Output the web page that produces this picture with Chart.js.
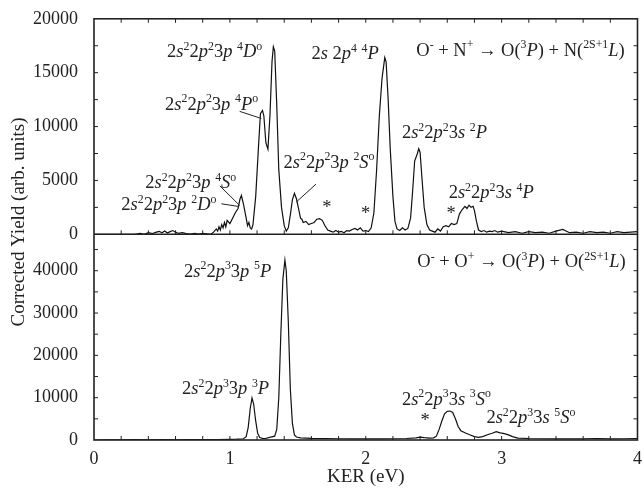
<!DOCTYPE html>
<html lang="en">
<head>
<meta charset="UTF-8">
<title>KER spectra</title>
<script src="https://cdn.jsdelivr.net/npm/chart.js"></script>
<style>
  body { margin: 0; background: #fff; }
  #chart { display: block; }
</style>
</head>
<body>
<canvas id="chart" width="642" height="496"></canvas>
<script>
// top panel: O- + N+
const topKer = [0.00, 0.30, 0.34, 0.37, 0.40, 0.43, 0.46, 0.48, 0.50, 0.52, 0.54, 0.56, 0.58, 0.60, 0.62, 0.65, 0.68, 0.71, 0.74, 0.77,
  0.80, 0.83, 0.86, 0.88, 0.90, 0.91, 0.92, 0.93, 0.94, 0.95, 0.96, 0.97, 0.98, 1.00, 1.02, 1.04, 1.06, 1.075, 1.085, 1.10,
  1.12, 1.13, 1.14, 1.15, 1.16, 1.17, 1.19, 1.21, 1.225, 1.24, 1.25, 1.265, 1.28, 1.295, 1.31, 1.32, 1.33, 1.345, 1.36, 1.38,
  1.40, 1.415, 1.43, 1.445, 1.46, 1.475, 1.49, 1.505, 1.52, 1.53, 1.54, 1.56, 1.58, 1.60, 1.62, 1.64, 1.66, 1.68, 1.70, 1.72,
  1.74, 1.76, 1.78, 1.80, 1.82, 1.84, 1.86, 1.88, 1.90, 1.92, 1.94, 1.96, 1.98, 2.00, 2.02, 2.04, 2.06, 2.08, 2.10, 2.12,
  2.14, 2.15, 2.165, 2.18, 2.20, 2.215, 2.23, 2.25, 2.27, 2.29, 2.31, 2.33, 2.345, 2.36, 2.38, 2.39, 2.40, 2.415, 2.43, 2.45,
  2.47, 2.49, 2.51, 2.53, 2.55, 2.57, 2.59, 2.61, 2.63, 2.65, 2.67, 2.69, 2.71, 2.73, 2.745, 2.76, 2.775, 2.79, 2.80, 2.815,
  2.83, 2.85, 2.87, 2.89, 2.91, 2.93, 2.95, 2.97, 3.00, 3.05, 3.10, 3.15, 3.20, 3.25, 3.30, 3.35, 3.40, 3.45, 3.50, 3.55,
  3.60, 3.65, 3.70, 3.75, 3.80, 3.85, 3.90, 3.95, 4.00];
const topYield = [0, 0, 80, 0, 150, 60, 200, 280, 150, 300, 120, 250, 350, 200, 80, 150, 60, 20, 80, 30,
  100, 50, 0, 200, 500, 300, 700, 400, 900, 600, 1100, 700, 1300, 1000, 1500, 2000, 2400, 3300, 3600, 2800,
  1500, 800, 1100, 600, 500, 900, 3500, 8000, 11200, 11500, 11000, 8500, 7900, 11000, 16000, 17400, 17000, 12000, 6000, 2500,
  800, 300, 600, 1800, 3200, 3800, 3300, 2400, 1500, 1400, 1100, 1200, 900, 1000, 1100, 1400, 1450, 1300, 800, 400,
  300, 200, 350, 200, 280, 150, 350, 300, 450, 550, 400, 600, 300, 350, 250, 600, 2000, 6000, 11000, 14500,
  16400, 16000, 12500, 8000, 3500, 1200, 500, 350, 600, 400, 550, 1500, 4000, 6800, 7500, 7950, 7600, 5000, 2500, 900,
  400, 300, 200, 500, 300, 700, 800, 700, 1000, 900, 1000, 1900, 2300, 2600, 2400, 2700, 2500, 2600, 2200, 1200,
  400, 250, 350, 200, 300, 250, 350, 200, 300, 150, 250, 100, 250, 150, 200, 100, 300, 450, 150, 200,
  100, 250, 150, 200, 100, 250, 150, 200, 250];

// bottom panel: O- + O+
const botKer = [0.0, 0.1, 0.2, 0.3, 0.4, 0.5, 0.6, 0.7, 0.8, 0.9, 1.0, 1.05, 1.1, 1.12, 1.135, 1.15, 1.163, 1.175, 1.19, 1.205,
  1.22, 1.24, 1.26, 1.28, 1.30, 1.33, 1.345, 1.36, 1.375, 1.39, 1.405, 1.415, 1.43, 1.445, 1.46, 1.475, 1.49, 1.52, 1.6, 1.7,
  1.8, 1.9, 2.0, 2.1, 2.2, 2.3, 2.37, 2.4, 2.43, 2.47, 2.50, 2.52, 2.54, 2.56, 2.58, 2.60, 2.62, 2.64, 2.66, 2.68,
  2.70, 2.73, 2.76, 2.80, 2.83, 2.86, 2.9, 2.93, 2.96, 2.99, 3.02, 3.05, 3.08, 3.12, 3.2, 3.3, 3.4, 3.5, 3.6, 3.7,
  3.8, 3.9, 4.0];
const botYield = [0, 50, 30, 80, 40, 100, 60, 90, 70, 120, 150, 200, 300, 800, 3000, 7500, 9900, 8500, 4500, 1500,
  600, 400, 350, 500, 700, 900, 2500, 10000, 25000, 38000, 42500, 40000, 28000, 12000, 4000, 1200, 700, 500, 400, 350,
  300, 250, 300, 250, 300, 350, 500, 700, 550, 450, 500, 900, 2500, 4500, 6200, 6800, 6850, 6500, 5000, 3200,
  2200, 1700, 1300, 800, 600, 800, 1300, 1600, 1950, 1700, 1500, 1200, 800, 450, 350, 300, 250, 300, 250, 350,
  250, 300, 350];

const xTicks = [0, 1, 2, 3, 4];
const topTicks = [0, 5000, 10000, 15000, 20000];
const botTicks = [0, 10000, 20000, 30000, 40000];

// labels: markup  *..* italic, ^..^ superscript
const topNotes = [
  { t: '2*s*^2^2*p*^2^3*p* ^4^*D*^o^', x: 0.538, y: 16980 },
  { t: '2*s*^2^2*p*^2^3*p* ^4^*P*^o^', x: 0.523, y: 12140 },
  { t: '2*s*^2^2*p*^2^3*p* ^4^*S*^o^', x: 0.377, y: 4840 },
  { t: '2*s*^2^2*p*^2^3*p* ^2^*D*^o^', x: 0.201, y: 2830 },
  { t: '2*s*^2^2*p*^2^3*p* ^2^*S*^o^', x: 1.395, y: 6760 },
  { t: '2*s* 2*p*^4^ ^4^*P*', x: 1.60, y: 16800 },
  { t: '2*s*^2^2*p*^2^3*s* ^2^*P*', x: 2.266, y: 9500 },
  { t: '2*s*^2^2*p*^2^3*s* ^4^*P*', x: 2.61, y: 3930 },
  { t: 'O^-^ + N^+^ \u2192 O(^3^*P*) + N(^2S+1^*L*)', x: 3.906, y: 17160, right: true },
  { t: '*', x: 1.68, y: 2500 },
  { t: '*', x: 1.965, y: 1950 },
  { t: '*', x: 2.595, y: 1950 }
];
const topLeaders = [
  [1.072, 11410, 1.231, 10750],
  [0.926, 4500, 1.072, 2680],
  [0.938, 2830, 1.067, 2580],
  [1.634, 4660, 1.488, 2990]
];
const botNotes = [
  { t: '2*s*^2^2*p*^3^3*p* ^5^*P*', x: 0.663, y: 40000 },
  { t: '2*s*^2^2*p*^3^3*p* ^3^*P*', x: 0.648, y: 12330 },
  { t: 'O^-^ + O^+^ \u2192 O(^3^*P*) + O(^2S+1^*L*)', x: 3.913, y: 42330, right: true },
  { t: '2*s*^2^2*p*^3^3*s* ^3^*S*^o^', x: 2.266, y: 9770 },
  { t: '*', x: 2.403, y: 4700 },
  { t: '2*s*^2^2*p*^3^3*s* ^5^*S*^o^', x: 2.888, y: 5350 }
];

const SERIF = "'Liberation Serif', 'Times New Roman', serif";

function parseRich(str) {
  if (str === '*') return [{ s: '*', it: false, sup: false }];
  const segs = [];
  let it = false, sup = false, buf = '';
  for (const ch of str) {
    if (ch === '*' || ch === '^') {
      if (buf) segs.push({ s: buf, it, sup });
      buf = '';
      if (ch === '*') it = !it; else sup = !sup;
    } else buf += ch;
  }
  if (buf) segs.push({ s: buf, it, sup });
  return segs;
}

function drawRich(ctx, str, x, y, size, right) {
  const segs = parseRich(str);
  const fontOf = g => (g.it ? 'italic ' : '') + (g.sup ? size * 0.64 : size) + 'px ' + SERIF;
  let w = 0;
  segs.forEach(g => { ctx.font = fontOf(g); g.w = ctx.measureText(g.s).width; w += g.w; });
  let cx = right ? x - w : x;
  ctx.textBaseline = 'alphabetic';
  ctx.textAlign = 'left';
  const base = y + size * 0.33;
  segs.forEach(g => {
    ctx.font = fontOf(g);
    ctx.fillText(g.s, cx, g.sup ? base - size * 0.4 : base);
    cx += g.w;
  });
}

const framePlugin = {
  id: 'frame',
  afterDraw(chart) {
    const ctx = chart.ctx;
    const xs = chart.scales.x, yt = chart.scales.yTop, yb = chart.scales.yBot;
    const a = chart.chartArea;
    ctx.save();
    ctx.strokeStyle = '#222';
    ctx.lineWidth = 1.6;
    ctx.strokeRect(a.left, a.top, a.right - a.left, a.bottom - a.top);
    ctx.beginPath();
    ctx.moveTo(a.left, yt.bottom); ctx.lineTo(a.right, yt.bottom);
    ctx.stroke();

    // inward ticks
    ctx.lineWidth = 1;
    ctx.beginPath();
    for (let k = 1; k < 20; k++) {
      const px = xs.getPixelForValue(k * 0.2);
      ctx.moveTo(px, a.top); ctx.lineTo(px, a.top + 4);
      ctx.moveTo(px, yt.bottom); ctx.lineTo(px, yt.bottom - 4);
      ctx.moveTo(px, a.bottom); ctx.lineTo(px, a.bottom - 4);
    }
    for (let v = 2500; v < 20000; v += 2500) {
      const py = yt.getPixelForValue(v);
      ctx.moveTo(a.left, py); ctx.lineTo(a.left + 4, py);
      ctx.moveTo(a.right, py); ctx.lineTo(a.right - 4, py);
    }
    for (let v = 5000; v < 48000; v += 5000) {
      const py = yb.getPixelForValue(v);
      ctx.moveTo(a.left, py); ctx.lineTo(a.left + 4, py);
      ctx.moveTo(a.right, py); ctx.lineTo(a.right - 4, py);
    }
    ctx.stroke();

    // labels
    ctx.fillStyle = '#222';
    topNotes.forEach(n => drawRich(ctx, n.t, xs.getPixelForValue(n.x), yt.getPixelForValue(n.y), 18.5, n.right));
    botNotes.forEach(n => drawRich(ctx, n.t, xs.getPixelForValue(n.x), yb.getPixelForValue(n.y), 18.5, n.right));
    ctx.lineWidth = 1;
    ctx.beginPath();
    topLeaders.forEach(l => {
      ctx.moveTo(xs.getPixelForValue(l[0]), yt.getPixelForValue(l[1]));
      ctx.lineTo(xs.getPixelForValue(l[2]), yt.getPixelForValue(l[3]));
    });
    ctx.stroke();

    // axis titles
    ctx.font = '19px ' + SERIF;
    ctx.textAlign = 'center';
    ctx.textBaseline = 'middle';
    ctx.fillText('KER (eV)', (a.left + a.right) / 2, 477);
    ctx.translate(19, 222);
    ctx.rotate(-Math.PI / 2);
    ctx.fillText('Corrected Yield (arb. units)', 0, 0);
    ctx.restore();
  }
};

const tickFont = { family: SERIF, size: 18 };
const plain = v => String(v);

new Chart(document.getElementById('chart'), {
  type: 'line',
  data: {
    datasets: [
      { data: topKer.map((k, i) => ({ x: k, y: topYield[i] })), yAxisID: 'yTop' },
      { data: botKer.map((k, i) => ({ x: k, y: botYield[i] })), yAxisID: 'yBot' }
    ]
  },
  options: {
    responsive: false,
    animation: false,
    layout: { padding: { top: 12, right: 2, left: 0, bottom: 0 } },
    elements: {
      point: { radius: 0 },
      line: { borderColor: '#111', borderWidth: 1.2, tension: 0 }
    },
    plugins: { legend: { display: false }, tooltip: { enabled: false } },
    scales: {
      x: {
        type: 'linear', min: 0, max: 4,
        grid: { display: false }, border: { display: false },
        afterBuildTicks: s => { s.ticks = xTicks.map(v => ({ value: v })); },
        ticks: { font: tickFont, color: '#222', padding: 0, maxRotation: 0, callback: plain },
        afterFit: s => { s.height = 56; }
      },
      yBot: {
        type: 'linear', position: 'left', stack: 'panels', stackWeight: 209,
        min: 0, max: 48600,
        grid: { display: false }, border: { display: false },
        afterBuildTicks: s => { s.ticks = botTicks.map(v => ({ value: v })); },
        ticks: { font: tickFont, color: '#222', padding: 8, callback: plain },
        afterFit: s => { s.width = 94; }
      },
      yTop: {
        type: 'linear', position: 'left', stack: 'panels', stackWeight: 219,
        min: 0, max: 20000,
        grid: { display: false }, border: { display: false },
        afterBuildTicks: s => { s.ticks = topTicks.map(v => ({ value: v })); },
        ticks: { font: tickFont, color: '#222', padding: 8, callback: plain },
        afterFit: s => { s.width = 94; }
      }
    }
  },
  plugins: [framePlugin]
});
</script>
</body>
</html>
